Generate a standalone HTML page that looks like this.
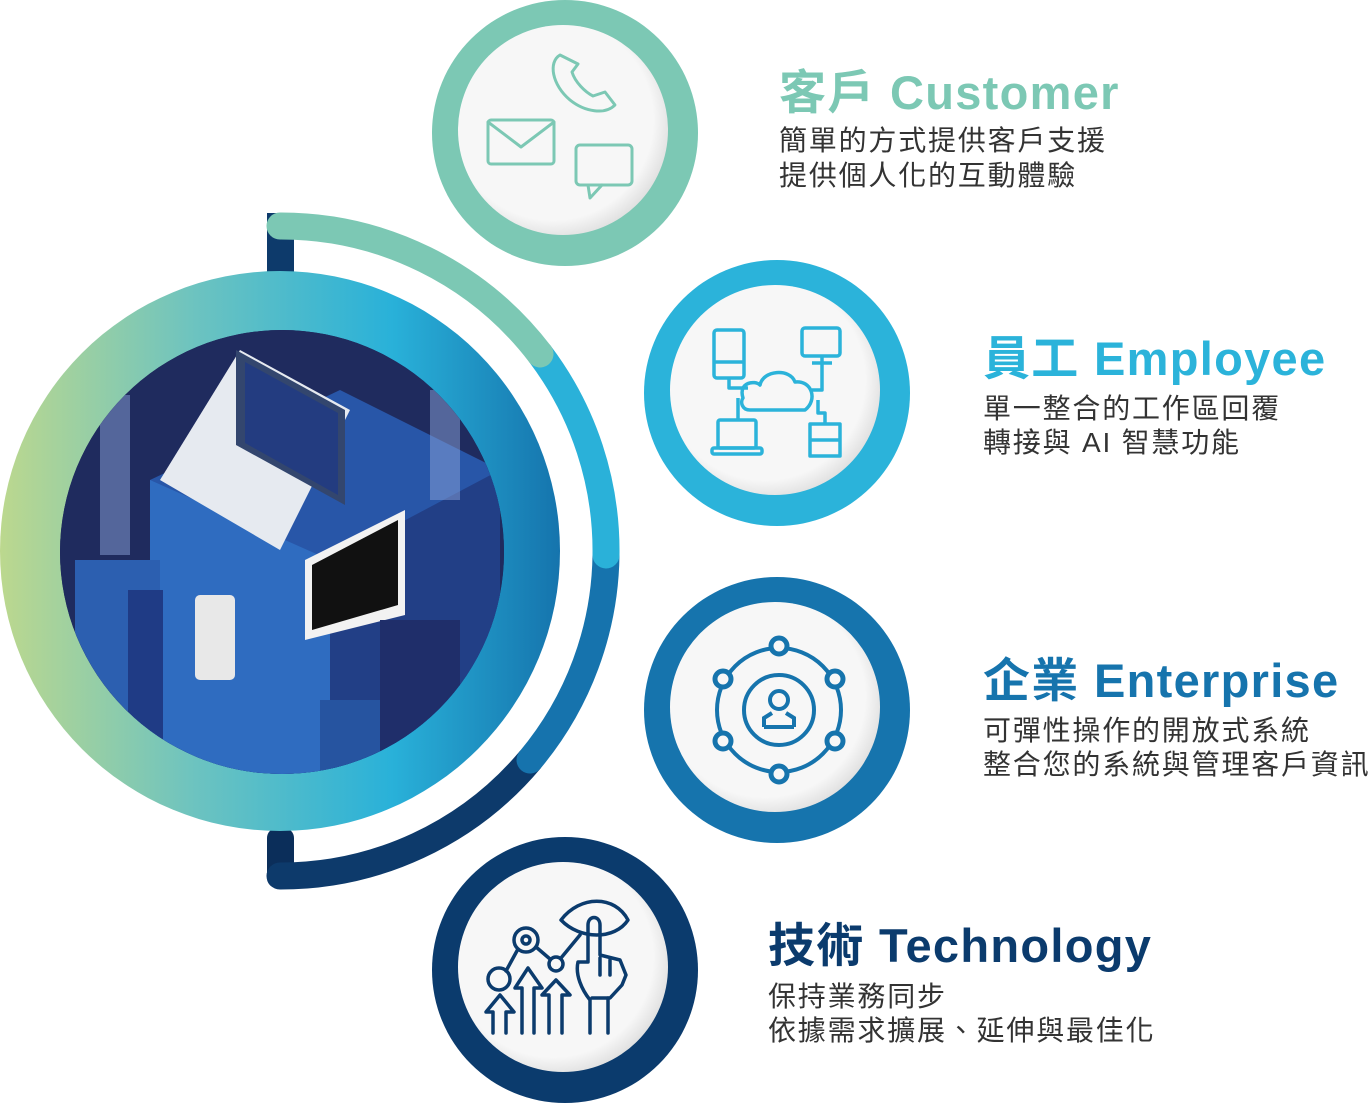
<!DOCTYPE html>
<html><head><meta charset="utf-8"><style>
html,body{margin:0;padding:0;background:#fff;width:1370px;height:1103px;overflow:hidden}
svg{display:block}
.t{font-family:"Liberation Sans","Noto Sans CJK TC",sans-serif;font-weight:bold;font-size:47px;letter-spacing:1.3px}
.s{font-family:"Liberation Sans","Noto Sans CJK TC",sans-serif;font-size:28px;letter-spacing:1.8px;fill:#333}
</style></head><body>
<svg width="1370" height="1103" viewBox="0 0 1370 1103" xmlns="http://www.w3.org/2000/svg">
<defs>
<linearGradient id="rg" x1="0" x2="1" y1="0" y2="0">
<stop offset="0" stop-color="#bcd88e"/><stop offset="0.35" stop-color="#6cc3c0"/><stop offset="0.7" stop-color="#29b1d9"/><stop offset="1" stop-color="#1574ad"/></linearGradient>
<radialGradient id="sh" cx="0.45" cy="0.45" r="0.6"><stop offset="0.8" stop-color="#f7f7f7"/><stop offset="1" stop-color="#d9d9d9"/></radialGradient>
<clipPath id="ic"><circle cx="282" cy="552" r="222"/></clipPath>
</defs>
<rect x="267" y="213" width="27" height="60" fill="#0d3a6b"/>
<rect x="267" y="828" width="27" height="60" rx="10" fill="#0b2e5a"/>
<g fill="none" stroke-width="27" stroke-linecap="round">
<path d="M530 760 A326 326 0 0 1 280 876" stroke="#0d3a6b"/>
<path d="M606 555 A326 326 0 0 1 530 760" stroke="#1673ad"/>
<path d="M540 354 A326 326 0 0 1 606 555" stroke="#2ab1d9"/>
<path d="M280 226 A326 326 0 0 1 540 354" stroke="#7cc8b4"/>
</g>
<circle cx="280" cy="551" r="280" fill="url(#rg)"/>
<circle cx="282" cy="552" r="222" fill="#1e2a5c"/>
<g clip-path="url(#ic)">
<rect x="60" y="330" width="450" height="450" fill="#1f2b5e"/>
<polygon points="150,480 340,390 500,470 500,780 150,780" fill="#2856a8"/>
<polygon points="150,480 330,560 330,780 150,780" fill="#2f6cc0"/>
<polygon points="330,560 500,470 500,780 330,780" fill="#223f86"/>
<polygon points="160,480 240,350 350,410 280,550" fill="#e6eaf0"/>
<polygon points="236,350 345,410 345,505 236,445" fill="#33466e"/>
<polygon points="245,362 338,413 338,495 245,443" fill="#233c80"/>
<polygon points="305,560 405,510 405,615 305,640" fill="#f2f2f2"/>
<polygon points="312,565 398,520 398,605 312,630" fill="#111"/>
<rect x="75" y="560" width="85" height="220" fill="#2c5fb0"/>
<rect x="128" y="590" width="35" height="190" fill="#1f3b85"/>
<rect x="100" y="395" width="30" height="160" fill="#8aa2d8" opacity="0.5"/>
<rect x="430" y="390" width="30" height="110" fill="#8aa2d8" opacity="0.5"/>
<rect x="195" y="595" width="40" height="85" rx="5" fill="#e8e8e8"/>
<rect x="380" y="620" width="80" height="150" fill="#1f2e6a"/>
<rect x="320" y="700" width="60" height="80" fill="#2654a0"/>
</g>
<g>
<circle cx="565" cy="133" r="133" fill="#7cc8b4"/><circle cx="563" cy="130" r="105" fill="url(#sh)"/>
<circle cx="777" cy="393" r="133" fill="#2bb3da"/><circle cx="775" cy="390" r="105" fill="url(#sh)"/>
<circle cx="777" cy="710" r="133" fill="#1674ad"/><circle cx="775" cy="707" r="105" fill="url(#sh)"/>
<circle cx="565" cy="970" r="133" fill="#0b3b6d"/><circle cx="563" cy="967" r="105" fill="url(#sh)"/>
</g>
<g fill="none" stroke="#7cc8b4" stroke-width="3" stroke-linejoin="round" stroke-linecap="round">
<rect x="488" y="120" width="66" height="44" rx="3"/><path d="M488 122 L521 147 L554 122"/>
<rect x="576" y="145" width="56" height="40" rx="4"/><path d="M588 185 L590 198 L602 185"/>
<path d="M560 55 C548 62 552 85 570 100 C585 112 605 115 615 105 L605 92 L593 96 C585 92 575 82 572 72 L578 64 Z"/>
</g>
<g fill="none" stroke="#2bb3da" stroke-width="3.5" stroke-linejoin="round">
<rect x="714" y="330" width="30" height="48" rx="3"/><line x1="714" y1="362" x2="744" y2="362"/>
<rect x="802" y="328" width="38" height="28" rx="3"/><path d="M812 363 H832 M822 356 V390 H812"/>
<path d="M743 398 C738 382 755 380 760 385 C763 370 790 368 795 382 C812 380 818 400 805 410 H750 C742 410 740 402 743 398 Z"/>
<path d="M729 378 V388 H748 M738 398 V420 M818 400 V413 H825 V425"/>
<rect x="718" y="420" width="38" height="28" rx="2"/><rect x="712" y="448" width="50" height="6" rx="2"/>
<rect x="810" y="424" width="30" height="32"/><line x1="810" y1="440" x2="840" y2="440"/>
</g>
<g fill="none" stroke="#1674ad" stroke-width="4">
<circle cx="779" cy="710" r="62"/><circle cx="779" cy="710" r="35"/>
<circle cx="779" cy="700" r="9"/><path d="M764 727 V718 L772 713 M794 727 V718 L786 713 M764 727 H794"/>
</g>
<g fill="#f7f7f7" stroke="#1674ad" stroke-width="5">
<circle cx="779" cy="646" r="8"/><circle cx="779" cy="774" r="8"/>
<circle cx="723" cy="679" r="8"/><circle cx="835" cy="679" r="8"/>
<circle cx="723" cy="741" r="8"/><circle cx="835" cy="741" r="8"/>
</g>
<g fill="none" stroke="#0b3b6d" stroke-width="3.5" stroke-linejoin="round" stroke-linecap="round">
<circle cx="499" cy="979" r="11"/><circle cx="526" cy="940" r="12"/><circle cx="526" cy="940" r="4"/><circle cx="556" cy="964" r="7"/>
<path d="M506 971 L518 949 M536 947 L550 959 M561 958 L580 935"/>
<path d="M493 1033 V1012 H486 L500 995 L514 1012 H506 V1033"/>
<path d="M522 1033 V988 H515 L528 968 L542 988 H534 V1033"/>
<path d="M549 1033 V995 H542 L556 980 L570 995 H562 V1033"/>
<path d="M561 920 C580 895 615 895 628 920 C615 940 580 940 561 920 Z"/>
<path d="M590 1033 V1000 C582 990 575 975 578 962 L588 962 V925 C588 915 600 915 600 925 V955 L620 960 L626 975 L622 985 L610 998 H592"/>
<path d="M608 998 V1033"/><path d="M600 958 V975 M610 960 V975"/>
</g>
<text x="779" y="109" class="t" fill="#7cc8b4">客戶 Customer</text>
<text x="779" y="150" class="s">簡單的方式提供客戶支援</text>
<text x="779" y="185" class="s">提供個人化的互動體驗</text>
<text x="983" y="375" class="t" fill="#2bb3da">員工 Employee</text>
<text x="983" y="418" class="s">單一整合的工作區回覆</text>
<text x="983" y="452" class="s">轉接與 AI 智慧功能</text>
<text x="983" y="697" class="t" fill="#1674ad">企業 Enterprise</text>
<text x="983" y="740" class="s">可彈性操作的開放式系統</text>
<text x="983" y="774" class="s">整合您的系統與管理客戶資訊</text>
<text x="768" y="962" class="t" fill="#0b3b6d">技術 Technology</text>
<text x="768" y="1006" class="s">保持業務同步</text>
<text x="768" y="1040" class="s">依據需求擴展、延伸與最佳化</text>
</svg>
</body></html>
